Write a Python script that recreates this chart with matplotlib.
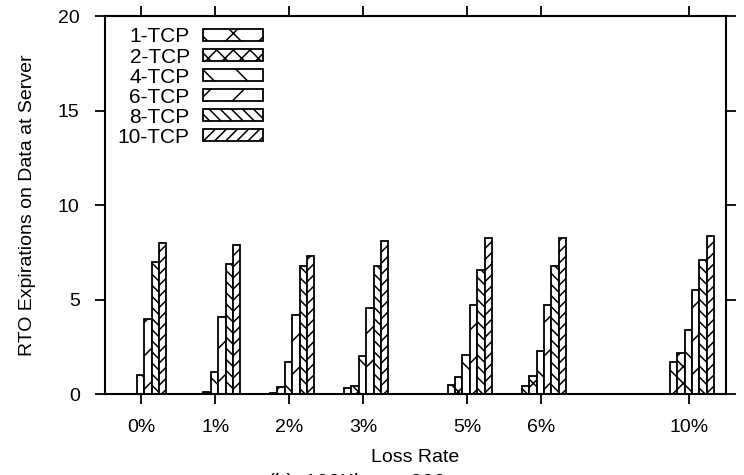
import matplotlib
matplotlib.use('Agg')
import matplotlib.pyplot as plt
import numpy as np

plt.rcParams['font.family'] = ['Liberation Sans', 'DejaVu Sans']
plt.rcParams['hatch.linewidth'] = 1.1

# loss rates and where gnuplot put them on the x axis
loss_labels = ['0%', '1%', '2%', '3%', '5%', '6%', '10%']
loss_pos = [0, 1, 2, 3, 4.4, 5.4, 7.4]

series = ['1-TCP', '2-TCP', '4-TCP', '6-TCP', '8-TCP', '10-TCP']
tcp1 = [0.0, 0.0, 0.05, 0.33, 0.46, 0.40, 1.68]
tcp2 = [0.0, 0.1, 0.35, 0.40, 0.90, 0.95, 2.15]
tcp4 = [1.0, 1.15, 1.68, 2.0, 2.05, 2.3, 3.39]
tcp6 = [3.97, 4.06, 4.2, 4.53, 4.7, 4.7, 5.5]
tcp8 = [6.97, 6.9, 6.77, 6.77, 6.56, 6.77, 7.09]
tcp10 = [7.97, 7.88, 7.3, 8.1, 8.27, 8.27, 8.38]
values = [tcp1, tcp2, tcp4, tcp6, tcp8, tcp10]
hatches = ['x', 'xx', '\\', '/', '\\\\\\', '///']

fig = plt.figure(figsize=(7.44, 4.75), dpi=100)
ax = fig.add_axes([0.1411, 0.1705, 0.8347, 0.7958])

w = 0.1
x = np.array(loss_pos)
for i, (name, vals, h) in enumerate(zip(series, values, hatches)):
    ax.bar(x - 0.26 + w * (i + 0.5), vals, w, label=name, color='white',
           edgecolor='black', hatch=h, linewidth=1.3)

ax.set_xlim(-0.49, 7.9)
ax.set_ylim(0, 20)
ax.set_xticks(x)
ax.set_xticklabels(loss_labels)
ax.set_yticks([0, 5, 10, 15, 20])
ax.tick_params(direction='out', length=7.2, width=1.3, labelsize=14, pad=11,
               top=True, right=True)
for s in ax.spines.values():
    s.set_linewidth(1.5)

ax.set_xlabel('Loss Rate', fontsize=14, labelpad=9)
ax.set_ylabel('RTO Expirations on Data at Server', fontsize=14, labelpad=16)

ax.legend(loc='upper right', frameon=False, markerfirst=False, fontsize=15,
          handlelength=2.9, handleheight=0.5, labelspacing=0.05,
          handletextpad=0.62, borderaxespad=0.0, borderpad=0.0,
          bbox_to_anchor=(0.2544, 0.9696))

# caption below the plot, mostly cut off in the original
fig.text(268 / 744, 2 / 475, '(b)  100Kbps    300ms', fontsize=15, va='top', ha='left')

fig.savefig('out.png', dpi=100)
